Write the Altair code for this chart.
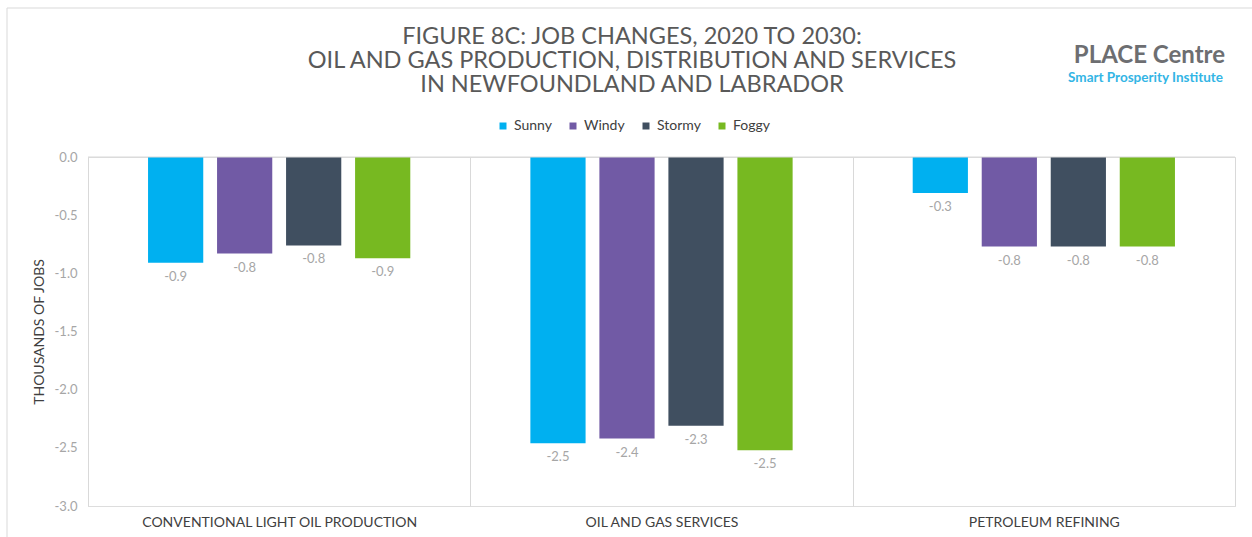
import altair as alt
import pandas as pd

categories = ["CONVENTIONAL LIGHT OIL PRODUCTION", "OIL AND GAS SERVICES", "PETROLEUM REFINING"]
series = ["Sunny", "Windy", "Stormy", "Foggy"]
sunny = [-0.91, -2.46, -0.31]
windy = [-0.83, -2.42, -0.77]
stormy = [-0.76, -2.31, -0.77]
foggy = [-0.87, -2.52, -0.77]
colors = ["#00B0F0", "#715AA5", "#404F60", "#77B921"]
y_ticks = [0, -0.5, -1.0, -1.5, -2.0, -2.5, -3.0]
title_lines = ["FIGURE 8C: JOB CHANGES, 2020 TO 2030:",
               "OIL AND GAS PRODUCTION, DISTRIBUTION AND SERVICES",
               "IN NEWFOUNDLAND AND LABRADOR"]
logo_main = ["PLACE Centre"]
logo_sub = ["Smart Prosperity Institute"]

rows = []
for name, vals in zip(series, [sunny, windy, stormy, foggy]):
    for cat, v in zip(categories, vals):
        rows.append({"category": cat, "series": name, "value": v})
df = pd.DataFrame(rows)

FONT = "Lato"

x_enc = alt.X("category:N", sort=categories,
              scale=alt.Scale(paddingInner=0, paddingOuter=0),
              axis=alt.Axis(title=None, labelAngle=0, domain=False, ticks=False,
                            grid=True, tickBand="extent", gridColor="#D9D9D9",
                            labelFont=FONT, labelFontSize=14, labelColor="#404040",
                            labelPadding=9, labelLimit=500))
xo_enc = alt.XOffset("series:N", sort=series,
                     scale=alt.Scale(paddingInner=0.2, paddingOuter=0.87))
y_enc = alt.Y("value:Q", scale=alt.Scale(domain=[-3, 0], nice=False),
              axis=alt.Axis(values=y_ticks, format=".1f", title="THOUSANDS OF JOBS",
                            grid=False, ticks=False, domainColor="#D9D9D9",
                            labelColor="#A6A6A6", labelFontSize=13, labelFont=FONT,
                            labelPadding=11, titleFont=FONT, titleFontSize=14,
                            titleColor="#404040", titleFontWeight="normal",
                            titlePadding=8))

base = alt.Chart(df)

bars = base.mark_bar().encode(
    x=x_enc, xOffset=xo_enc, y=y_enc,
    color=alt.Color("series:N", sort=series,
                    scale=alt.Scale(domain=series, range=colors),
                    legend=alt.Legend(title=None, orient="none", direction="horizontal",
                                      legendX=408, legendY=-38, symbolType="square",
                                      symbolSize=49, symbolStrokeWidth=0,
                                      labelFontSize=14, labelColor="#404040",
                                      labelFont=FONT, columnPadding=14, symbolOffset=0,
                                      labelOffset=4))
)

labels = base.mark_text(dy=14, baseline="middle", color="#A6A6A6", fontSize=13,
                        font=FONT).encode(
    x=alt.X("category:N", sort=categories), xOffset=alt.XOffset("series:N", sort=series),
    y="value:Q", text=alt.Text("value:Q", format=".1f"))

zero = alt.Chart(pd.DataFrame({"z": [0]})).mark_rule(color="#D9D9D9", strokeWidth=1).encode(
    y=alt.Y("z:Q"))

title = alt.Chart(pd.DataFrame({"d": [1]})).mark_text(
    align="center", baseline="top", font=FONT, fontSize=23.5, fontWeight="normal",
    color="#595959", lineHeight=24).encode(
    text=alt.value(title_lines), x=alt.value(544), y=alt.value(-132))

logo1 = alt.Chart(pd.DataFrame({"t": logo_main})).mark_text(
    align="right", baseline="middle", font=FONT, fontWeight="bold", fontSize=24,
    color="#6D6E71").encode(text="t:N", x=alt.value(1137), y=alt.value(-101))
logo2 = alt.Chart(pd.DataFrame({"t": logo_sub})).mark_text(
    align="right", baseline="middle", font=FONT, fontWeight="bold", fontSize=13.5,
    color="#33B5E5").encode(text="t:N", x=alt.value(1135), y=alt.value(-79))

border = alt.Chart(pd.DataFrame({"b": [1]})).mark_rect(
    filled=False, stroke="#D9D9D9", strokeWidth=1).encode(
    x=alt.value(-81), x2=alt.value(1300), y=alt.value(-149), y2=alt.value(500))

chart = alt.layer(border, bars, zero, labels, title, logo1, logo2).properties(
    width=1147, height=349,
    padding={"left": 88, "top": 157, "right": 17, "bottom": 31},
    autosize=alt.AutoSizeParams(type="none"),
).configure_view(stroke=None).configure(
    locale={"number": {"decimal": ".", "thousands": ",", "grouping": [3],
                       "currency": ["$", ""], "minus": "-"}}
)

chart.save("out.html", embed_options={"renderer": "svg", "actions": False})
